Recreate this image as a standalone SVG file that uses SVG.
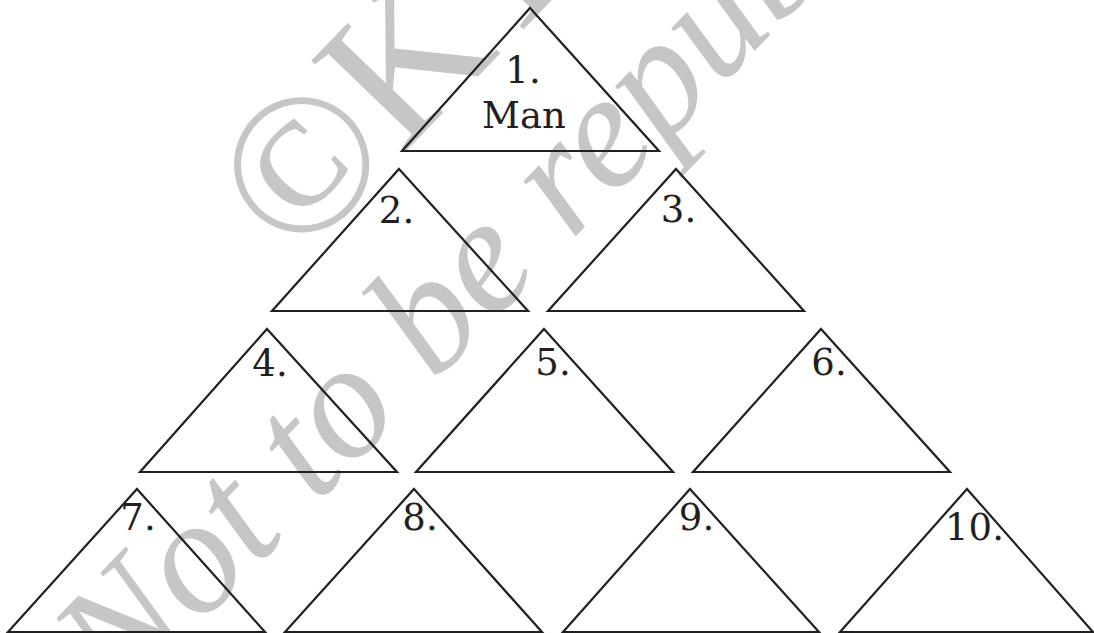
<svg xmlns="http://www.w3.org/2000/svg" width="1094" height="633" viewBox="0 0 1094 633">
<style>
.tri{fill:none;stroke:#231f20;stroke-width:2.2;stroke-linejoin:miter}
.lbl{font-family:"DejaVu Serif","Liberation Serif",serif;font-size:37px;fill:#231f20;text-anchor:middle}
.wm1{font-family:"Liberation Serif",serif;font-size:200px;fill:#c6c6c6}
.wm2{font-family:"Liberation Serif",serif;font-style:italic;font-size:165px;fill:#c6c6c6}
</style>
<rect width="1094" height="633" fill="#ffffff"/>
<g id="watermark">
<text class="wm1" transform="translate(296,265) rotate(-46)">©KTBS</text>
<text class="wm2" transform="translate(122,706) rotate(-46)">Not to be republished</text>
</g>
<g id="connectors"></g>
<g id="n1"><polygon class="tri" points="530,8 659,151 402,151"/><text class="lbl" x="523" y="83">1.</text><text class="lbl" x="524" y="128">Man</text></g>
<g id="n2"><polygon class="tri" points="399,169 528,311 272,311"/><text class="lbl" x="396.5" y="223">2.</text></g>
<g id="n3"><polygon class="tri" points="676,169 804,311 548,311"/><text class="lbl" x="678.5" y="222">3.</text></g>
<g id="n4"><polygon class="tri" points="267,329 397,472 140,472"/><text class="lbl" x="270" y="376">4.</text></g>
<g id="n5"><polygon class="tri" points="544,329 673,472 416,472"/><text class="lbl" x="553" y="375">5.</text></g>
<g id="n6"><polygon class="tri" points="821,329 950,472 693,472"/><text class="lbl" x="829" y="375">6.</text></g>
<g id="n7"><polygon class="tri" points="137,489 265,632 8,632"/><text class="lbl" x="138" y="530">7.</text></g>
<g id="n8"><polygon class="tri" points="414,489 542,632 285,632"/><text class="lbl" x="420" y="530">8.</text></g>
<g id="n9"><polygon class="tri" points="690,489 819,632 563,632"/><text class="lbl" x="696.5" y="530">9.</text></g>
<g id="n10"><polygon class="tri" points="967,489 1093,632 840,632"/><text class="lbl" x="974.5" y="540">10.</text></g>
</svg>
